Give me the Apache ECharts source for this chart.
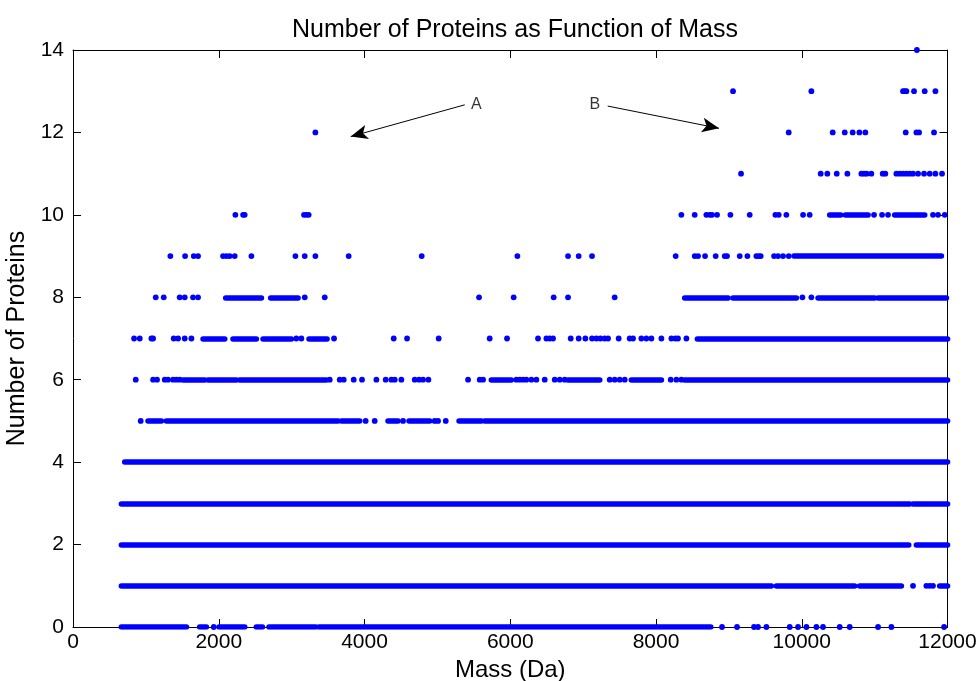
<!DOCTYPE html>
<html>
<head>
<meta charset="utf-8">
<script src="https://cdn.jsdelivr.net/npm/echarts@6/dist/echarts.min.js"></script>
<style>
html,body{margin:0;padding:0;background:#fff;overflow:hidden;}
#chart{width:980px;height:681px;}
</style>
</head>
<body>
<div id="chart"></div>
<script>
// ---- data (mass in Da at each protein count level) ----
const dots14 = [11580];
const dots13 = [9057, 10132, 11390, 11413, 11436, 11541, 11687, 11834];
const dots12 = [3326, 9821, 10425, 10590, 10699, 10791, 10873, 11427, 11573, 11610, 11815];
const dots11 = [9167, 10260, 10351, 10480, 10626, 10818, 10855, 10891, 10955, 11111, 11147, 11298, 11344, 11390, 11436, 11482, 11527, 11596, 11678, 11756, 11834, 11925];
const dots10 = [2228, 2334, 2356, 3170, 3202, 3234, 8348, 8531, 8691, 8737, 8769, 8838, 9021, 9286, 9638, 9684, 9789, 10018, 10109, 10992, 11102, 11184, 11801, 11870, 11962];
const runs10 = [[10384, 10535], [10599, 10910], [11275, 11687]];
const dots9 = [1336, 1538, 1657, 1716, 2059, 2105, 2150, 2219, 2448, 3052, 3180, 3326, 3783, 4785, 6098, 6793, 6939, 7122, 8270, 8531, 8577, 8673, 8819, 8943, 8975, 9149, 9254, 9377, 9410, 9437, 9620, 9675, 9743, 9821];
const runs9 = [[9894, 11916]];
const dots8 = [1135, 1245, 1464, 1533, 1647, 1716, 3180, 3454, 5572, 6047, 6596, 6793, 7433, 10009, 10132];
const runs8 = [[2096, 2585], [2713, 3088], [8394, 8989], [9057, 9926], [10224, 11001], [11047, 11985]];
const dots7 = [838, 916, 1076, 1099, 1382, 1442, 1533, 1625, 3065, 3134, 3582, 4401, 4584, 5018, 5718, 5956, 6381, 6496, 6541, 6587, 6830, 6939, 7031, 7122, 7182, 7237, 7296, 7342, 7488, 7639, 7685, 7799, 7868, 7937, 8074, 8211, 8266, 8302, 8417];
const runs7 = [[1785, 2082], [2196, 2516], [2608, 2997], [3239, 3486], [8568, 12000]];
const dots6 = [861, 1099, 1153, 1259, 1304, 1373, 1419, 1464, 3523, 3660, 3715, 3852, 3966, 4163, 4291, 4369, 4415, 4506, 4689, 4749, 4803, 4877, 5421, 5581, 5627, 6084, 6130, 6176, 6221, 6290, 6359, 6473, 6610, 6679, 6747, 7365, 7433, 7502, 7571, 8202, 8280, 8348];
const runs6 = [[1510, 1808], [1853, 2242], [2288, 3477], [5741, 6015], [6793, 7228], [7662, 8074], [8394, 12000]];
const dots5 = [929, 4016, 4140, 4529, 4963, 5009, 5115];
const runs5 = [[1030, 1213], [1281, 3637], [3683, 3934], [4323, 4460], [4611, 4895], [5298, 5604], [5650, 12000]];
const runs4 = [[710, 12000]];
const runs3 = [[664, 11481], [11527, 12000]];
const runs2 = [[664, 11468], [11573, 12000]];
const dots1 = [11527, 11710, 11756, 11801];
const runs1 = [[664, 9583], [9652, 10727], [10795, 11367], [11893, 12000]];
const dots0 = [1931, 8906, 9112, 9345, 9400, 9515, 9835, 9949, 10064, 10201, 10292, 10521, 10658, 11047, 11230, 11953];
const runs0 = [[664, 1556], [1739, 1830], [2004, 2356], [2516, 2599], [2690, 3331], [3376, 8751]];

// annotations
const arrowA = [[5375, 12.67], [3811, 11.90]];
const arrowB = [[7337, 12.64], [8865, 12.10]];
const labelA = [5536, 12.67];
const labelB = [7159, 12.67];

const titleText = 'Number of Proteins as Function of Mass';
const xName = 'Mass (Da)';
const yName = 'Number of Proteins';

// ---- build ----
const dotLevels = [[0, dots0], [1, dots1], [5, dots5], [6, dots6], [7, dots7], [8, dots8], [9, dots9], [10, dots10], [11, dots11], [12, dots12], [13, dots13], [14, dots14]];
const runLevels = [[0, runs0], [1, runs1], [2, runs2], [3, runs3], [4, runs4], [5, runs5], [6, runs6], [7, runs7], [8, runs8], [9, runs9], [10, runs10]];

const scatterData = [];
dotLevels.forEach(([lv, xs]) => xs.forEach(x => scatterData.push([x, lv])));
const runData = [];
runLevels.forEach(([lv, rs]) => rs.forEach(([a, b]) => runData.push({ coords: [[a, lv], [b, lv]] })));

const FONT = "'Liberation Sans', Arial, Helvetica, sans-serif";
const BLUE = '#0000ff';

function axisCommon() {
  return {
    axisLine: { show: true, onZero: false, lineStyle: { color: '#000', width: 1 } },
    axisTick: { show: true, inside: true, length: 8, lineStyle: { color: '#000', width: 1 } },
    splitLine: { show: false }
  };
}

const chart = echarts.init(document.getElementById('chart'), null, { renderer: 'canvas', width: 980, height: 681 });
chart.setOption({
  animation: false,
  backgroundColor: '#fff',
  title: {
    text: titleText, left: 510, top: 13, textAlign: 'center',
    textStyle: { fontFamily: FONT, fontSize: 25, fontWeight: 'normal', color: '#000' }
  },
  grid: { left: 73, right: 32.5, top: 50, bottom: 54, containLabel: false, outerBoundsMode: 'none', show: false },
  xAxis: [
    Object.assign({
      type: 'value', position: 'bottom', min: 0, max: 12000, interval: 2000,
      name: xName, nameLocation: 'middle', nameGap: 27,
      nameTextStyle: { fontFamily: FONT, fontSize: 24, color: '#000' },
      axisLabel: { fontFamily: FONT, fontSize: 21, color: '#000', margin: 5, formatter: v => String(v) }
    }, axisCommon()),
    Object.assign({
      type: 'value', position: 'top', min: 0, max: 12000, interval: 2000,
      axisLabel: { show: false }
    }, axisCommon())
  ],
  yAxis: [
    Object.assign({
      type: 'value', position: 'left', min: 0, max: 14, interval: 2,
      name: yName, nameLocation: 'middle', nameGap: 31, nameRotate: 90,
      nameTextStyle: { fontFamily: FONT, fontSize: 25, color: '#000' },
      axisLabel: { fontFamily: FONT, fontSize: 21, color: '#000', margin: 9, formatter: v => String(v) }
    }, axisCommon()),
    Object.assign({
      type: 'value', position: 'right', min: 0, max: 14, interval: 2,
      axisLabel: { show: false }
    }, axisCommon())
  ],
  series: [
    {
      type: 'lines', coordinateSystem: 'cartesian2d', xAxisIndex: 0, yAxisIndex: 0,
      silent: true, z: 3,
      lineStyle: { color: BLUE, width: 5.6, opacity: 1, cap: 'round', curveness: 0 },
      data: runData
    },
    {
      type: 'scatter', xAxisIndex: 0, yAxisIndex: 0, silent: true, z: 4,
      symbol: 'circle', symbolSize: 5.8,
      itemStyle: { color: BLUE, opacity: 1 },
      data: scatterData,
      markLine: {
        silent: true, symbol: ['none', 'arrow'], symbolSize: [11, 17],
        lineStyle: { color: '#000', width: 1, type: 'solid' },
        label: { show: false },
        data: [
          [{ coord: arrowA[0] }, { coord: arrowA[1] }],
          [{ coord: arrowB[0] }, { coord: arrowB[1] }]
        ]
      }
    },
    {
      type: 'scatter', xAxisIndex: 0, yAxisIndex: 0, silent: true, z: 5,
      symbolSize: 0,
      label: { show: true, position: 'inside', formatter: '{b}', color: '#000', fontFamily: FONT, fontSize: 16 },
      data: [{ name: 'A', value: labelA }, { name: 'B', value: labelB }]
    }
  ]
});
</script>
</body>
</html>
